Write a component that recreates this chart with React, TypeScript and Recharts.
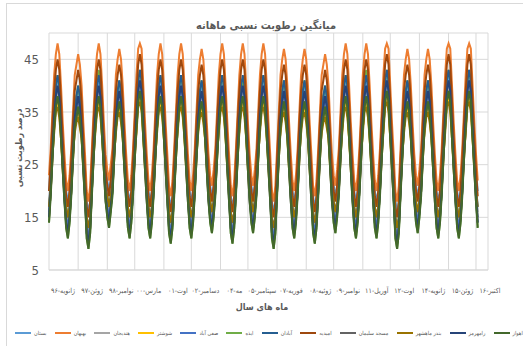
import React from 'react';
import { LineChart, Line, XAxis, YAxis, CartesianGrid, Legend } from 'recharts';

// monthly mean relative humidity, one row per season (first row starts one month in)
const BOSTAN = [
  20, 25, 31, 36, 40, 41, 39, 35, 29, 24, 20,
  18, 20, 25, 31, 36, 38, 39, 37, 35, 29, 24, 18,
  16, 18, 25, 31, 36, 40, 41, 39, 35, 29, 24, 22,
  20, 22, 25, 31, 36, 39, 40, 38, 35, 29, 24, 20,
  18, 20, 25, 31, 36, 41, 42, 40, 35, 29, 24, 20,
  18, 20, 25, 31, 36, 40, 41, 39, 35, 29, 24, 19,
  17, 19, 25, 31, 36, 40, 41, 39, 35, 29, 24, 20,
  18, 20, 25, 31, 36, 39, 40, 38, 35, 29, 24, 21,
  19, 21, 25, 31, 36, 40, 41, 39, 35, 29, 24, 19,
  17, 19, 25, 31, 36, 40, 41, 39, 35, 29, 24, 21,
  19, 21, 25, 31, 36, 40, 41, 39, 35, 29, 24, 18,
  16, 18, 25, 31, 36, 39, 40, 38, 35, 29, 24, 20,
  18, 20, 25, 31, 36, 39, 40, 38, 35, 29, 24, 19,
  17, 19, 25, 31, 36, 38, 39, 37, 35, 29, 24, 21,
  19, 21, 25, 31, 36, 40, 41, 39, 35, 29, 24, 20,
  18, 20, 25, 31, 36, 40, 41, 39, 35, 29, 24, 20,
  18, 20, 25, 31, 36, 41, 42, 40, 35, 29, 24, 18,
  16, 18, 25, 31, 36, 39, 40, 38, 35, 29, 24, 21,
  19, 21, 25, 31, 36, 39, 40, 38, 35, 29, 24, 20,
  18, 20, 25, 31, 36, 41, 42, 40, 35, 29, 24, 20,
  18, 20, 25, 31, 36, 41, 42, 40, 35, 29, 24, 20,
];
const BEHBAHAN = [
  23, 28, 35, 42, 46, 48, 46, 40, 33, 27, 22,
  20, 23, 28, 35, 42, 44, 46, 44, 40, 33, 27, 20,
  18, 21, 28, 35, 42, 46, 48, 46, 40, 33, 27, 24,
  22, 25, 28, 35, 42, 45, 47, 45, 40, 33, 27, 22,
  20, 23, 28, 35, 42, 47, 48, 47, 40, 33, 27, 22,
  20, 23, 28, 35, 42, 46, 48, 46, 40, 33, 27, 21,
  19, 22, 28, 35, 42, 46, 48, 46, 40, 33, 27, 22,
  20, 23, 28, 35, 42, 45, 47, 45, 40, 33, 27, 23,
  21, 24, 28, 35, 42, 46, 48, 46, 40, 33, 27, 21,
  19, 22, 28, 35, 42, 46, 48, 46, 40, 33, 27, 23,
  21, 24, 28, 35, 42, 46, 48, 46, 40, 33, 27, 20,
  18, 21, 28, 35, 42, 45, 47, 45, 40, 33, 27, 22,
  20, 23, 28, 35, 42, 45, 47, 45, 40, 33, 27, 21,
  19, 22, 28, 35, 42, 44, 46, 44, 40, 33, 27, 23,
  21, 24, 28, 35, 42, 46, 48, 46, 40, 33, 27, 22,
  20, 23, 28, 35, 42, 46, 48, 46, 40, 33, 27, 22,
  20, 23, 28, 35, 42, 47, 48, 47, 40, 33, 27, 20,
  18, 21, 28, 35, 42, 45, 47, 45, 40, 33, 27, 23,
  21, 24, 28, 35, 42, 45, 47, 45, 40, 33, 27, 22,
  20, 23, 28, 35, 42, 47, 48, 47, 40, 33, 27, 22,
  20, 23, 28, 35, 42, 47, 48, 47, 40, 33, 27, 22,
];
const HENDIJAN = [
  16, 21, 28, 33, 37, 39, 37, 32, 26, 20, 16,
  14, 16, 21, 28, 33, 35, 37, 35, 32, 26, 20, 14,
  12, 14, 21, 28, 33, 37, 39, 37, 32, 26, 20, 18,
  16, 18, 21, 28, 33, 36, 38, 36, 32, 26, 20, 16,
  14, 16, 21, 28, 33, 38, 40, 38, 32, 26, 20, 16,
  14, 16, 21, 28, 33, 37, 39, 37, 32, 26, 20, 15,
  13, 15, 21, 28, 33, 37, 39, 37, 32, 26, 20, 16,
  14, 16, 21, 28, 33, 36, 38, 36, 32, 26, 20, 17,
  15, 17, 21, 28, 33, 37, 39, 37, 32, 26, 20, 15,
  13, 15, 21, 28, 33, 37, 39, 37, 32, 26, 20, 17,
  15, 17, 21, 28, 33, 37, 39, 37, 32, 26, 20, 14,
  12, 14, 21, 28, 33, 36, 38, 36, 32, 26, 20, 16,
  14, 16, 21, 28, 33, 36, 38, 36, 32, 26, 20, 15,
  13, 15, 21, 28, 33, 35, 37, 35, 32, 26, 20, 17,
  15, 17, 21, 28, 33, 37, 39, 37, 32, 26, 20, 16,
  14, 16, 21, 28, 33, 37, 39, 37, 32, 26, 20, 16,
  14, 16, 21, 28, 33, 38, 40, 38, 32, 26, 20, 14,
  12, 14, 21, 28, 33, 36, 38, 36, 32, 26, 20, 17,
  15, 17, 21, 28, 33, 36, 38, 36, 32, 26, 20, 16,
  14, 16, 21, 28, 33, 38, 40, 38, 32, 26, 20, 16,
  14, 16, 21, 28, 33, 38, 40, 38, 32, 26, 20, 16,
];
const SHUSHTAR = [
  15, 20, 26, 32, 36, 37, 35, 30, 24, 19, 15,
  13, 15, 20, 26, 32, 34, 35, 33, 30, 24, 19, 13,
  11, 13, 20, 26, 32, 36, 37, 35, 30, 24, 19, 17,
  15, 17, 20, 26, 32, 35, 36, 34, 30, 24, 19, 15,
  13, 15, 20, 26, 32, 37, 38, 36, 30, 24, 19, 15,
  13, 15, 20, 26, 32, 36, 37, 35, 30, 24, 19, 14,
  12, 14, 20, 26, 32, 36, 37, 35, 30, 24, 19, 15,
  13, 15, 20, 26, 32, 35, 36, 34, 30, 24, 19, 16,
  14, 16, 20, 26, 32, 36, 37, 35, 30, 24, 19, 14,
  12, 14, 20, 26, 32, 36, 37, 35, 30, 24, 19, 16,
  14, 16, 20, 26, 32, 36, 37, 35, 30, 24, 19, 13,
  11, 13, 20, 26, 32, 35, 36, 34, 30, 24, 19, 15,
  13, 15, 20, 26, 32, 35, 36, 34, 30, 24, 19, 14,
  12, 14, 20, 26, 32, 34, 35, 33, 30, 24, 19, 16,
  14, 16, 20, 26, 32, 36, 37, 35, 30, 24, 19, 15,
  13, 15, 20, 26, 32, 36, 37, 35, 30, 24, 19, 15,
  13, 15, 20, 26, 32, 37, 38, 36, 30, 24, 19, 13,
  11, 13, 20, 26, 32, 35, 36, 34, 30, 24, 19, 16,
  14, 16, 20, 26, 32, 35, 36, 34, 30, 24, 19, 15,
  13, 15, 20, 26, 32, 37, 38, 36, 30, 24, 19, 15,
  13, 15, 20, 26, 32, 37, 38, 36, 30, 24, 19, 15,
];
const SAFIABAD = [
  16, 21, 28, 34, 38, 40, 38, 32, 26, 20, 15,
  13, 16, 21, 28, 34, 36, 38, 36, 32, 26, 20, 13,
  11, 14, 21, 28, 34, 38, 40, 38, 32, 26, 20, 17,
  15, 18, 21, 28, 34, 37, 39, 37, 32, 26, 20, 15,
  13, 16, 21, 28, 34, 39, 41, 39, 32, 26, 20, 15,
  13, 16, 21, 28, 34, 38, 40, 38, 32, 26, 20, 14,
  12, 15, 21, 28, 34, 38, 40, 38, 32, 26, 20, 15,
  13, 16, 21, 28, 34, 37, 39, 37, 32, 26, 20, 16,
  14, 17, 21, 28, 34, 38, 40, 38, 32, 26, 20, 14,
  12, 15, 21, 28, 34, 38, 40, 38, 32, 26, 20, 16,
  14, 17, 21, 28, 34, 38, 40, 38, 32, 26, 20, 13,
  11, 14, 21, 28, 34, 37, 39, 37, 32, 26, 20, 15,
  13, 16, 21, 28, 34, 37, 39, 37, 32, 26, 20, 14,
  12, 15, 21, 28, 34, 36, 38, 36, 32, 26, 20, 16,
  14, 17, 21, 28, 34, 38, 40, 38, 32, 26, 20, 15,
  13, 16, 21, 28, 34, 38, 40, 38, 32, 26, 20, 15,
  13, 16, 21, 28, 34, 39, 41, 39, 32, 26, 20, 13,
  11, 14, 21, 28, 34, 37, 39, 37, 32, 26, 20, 16,
  14, 17, 21, 28, 34, 37, 39, 37, 32, 26, 20, 15,
  13, 16, 21, 28, 34, 39, 41, 39, 32, 26, 20, 15,
  13, 16, 21, 28, 34, 39, 41, 39, 32, 26, 20, 15,
];
const IZEH = [
  14, 20, 28, 35, 40, 42, 40, 33, 26, 19, 13,
  11, 14, 20, 28, 35, 38, 40, 38, 33, 26, 19, 11,
  9, 12, 20, 28, 35, 41, 43, 41, 33, 26, 19, 15,
  13, 16, 20, 28, 35, 39, 41, 39, 33, 26, 19, 13,
  11, 14, 20, 28, 35, 41, 43, 41, 33, 26, 19, 13,
  11, 14, 20, 28, 35, 40, 42, 40, 33, 26, 19, 12,
  10, 13, 20, 28, 35, 40, 42, 40, 33, 26, 19, 13,
  11, 14, 20, 28, 35, 39, 41, 39, 33, 26, 19, 14,
  12, 15, 20, 28, 35, 40, 42, 40, 33, 26, 19, 12,
  10, 13, 20, 28, 35, 39, 41, 39, 33, 26, 19, 14,
  12, 15, 20, 28, 35, 40, 42, 40, 33, 26, 19, 11,
  9, 12, 20, 28, 35, 39, 41, 39, 33, 26, 19, 13,
  11, 14, 20, 28, 35, 39, 41, 39, 33, 26, 19, 12,
  10, 13, 20, 28, 35, 38, 40, 38, 33, 26, 19, 14,
  12, 15, 20, 28, 35, 40, 42, 40, 33, 26, 19, 13,
  11, 14, 20, 28, 35, 41, 43, 41, 33, 26, 19, 13,
  11, 14, 20, 28, 35, 41, 43, 41, 33, 26, 19, 11,
  9, 12, 20, 28, 35, 39, 41, 39, 33, 26, 19, 14,
  12, 15, 20, 28, 35, 39, 41, 39, 33, 26, 19, 13,
  11, 14, 20, 28, 35, 41, 43, 41, 33, 26, 19, 13,
  11, 14, 20, 28, 35, 41, 43, 41, 33, 26, 19, 13,
];
const ABADAN = [
  17, 22, 29, 35, 40, 42, 40, 34, 27, 21, 17,
  15, 17, 22, 29, 35, 38, 40, 38, 34, 27, 21, 15,
  13, 15, 22, 29, 35, 40, 42, 40, 34, 27, 21, 19,
  17, 19, 22, 29, 35, 39, 41, 39, 34, 27, 21, 17,
  15, 17, 22, 29, 35, 41, 43, 41, 34, 27, 21, 17,
  15, 17, 22, 29, 35, 40, 42, 40, 34, 27, 21, 16,
  14, 16, 22, 29, 35, 40, 42, 40, 34, 27, 21, 17,
  15, 17, 22, 29, 35, 39, 41, 39, 34, 27, 21, 18,
  16, 18, 22, 29, 35, 40, 42, 40, 34, 27, 21, 16,
  14, 16, 22, 29, 35, 40, 42, 40, 34, 27, 21, 18,
  16, 18, 22, 29, 35, 40, 42, 40, 34, 27, 21, 15,
  13, 15, 22, 29, 35, 39, 41, 39, 34, 27, 21, 17,
  15, 17, 22, 29, 35, 39, 41, 39, 34, 27, 21, 16,
  14, 16, 22, 29, 35, 38, 40, 38, 34, 27, 21, 18,
  16, 18, 22, 29, 35, 40, 42, 40, 34, 27, 21, 17,
  15, 17, 22, 29, 35, 40, 42, 40, 34, 27, 21, 17,
  15, 17, 22, 29, 35, 41, 43, 41, 34, 27, 21, 15,
  13, 15, 22, 29, 35, 39, 41, 39, 34, 27, 21, 18,
  16, 18, 22, 29, 35, 39, 41, 39, 34, 27, 21, 17,
  15, 17, 22, 29, 35, 41, 43, 41, 34, 27, 21, 17,
  15, 17, 22, 29, 35, 41, 43, 41, 34, 27, 21, 17,
];
const OMIDIYEH = [
  20, 26, 33, 39, 43, 45, 43, 37, 30, 24, 19,
  17, 20, 26, 33, 39, 41, 43, 41, 37, 30, 24, 17,
  15, 18, 26, 33, 39, 43, 45, 43, 37, 30, 24, 21,
  19, 22, 26, 33, 39, 42, 44, 42, 37, 30, 24, 19,
  17, 20, 26, 33, 39, 44, 46, 44, 37, 30, 24, 19,
  17, 20, 26, 33, 39, 43, 45, 43, 37, 30, 24, 18,
  16, 19, 26, 33, 39, 43, 45, 43, 37, 30, 24, 19,
  17, 20, 26, 33, 39, 42, 44, 42, 37, 30, 24, 20,
  18, 21, 26, 33, 39, 43, 45, 43, 37, 30, 24, 18,
  16, 19, 26, 33, 39, 43, 45, 43, 37, 30, 24, 20,
  18, 21, 26, 33, 39, 43, 45, 43, 37, 30, 24, 17,
  15, 18, 26, 33, 39, 42, 44, 42, 37, 30, 24, 19,
  17, 20, 26, 33, 39, 42, 44, 42, 37, 30, 24, 18,
  16, 19, 26, 33, 39, 41, 43, 41, 37, 30, 24, 20,
  18, 21, 26, 33, 39, 43, 45, 43, 37, 30, 24, 19,
  17, 20, 26, 33, 39, 43, 45, 43, 37, 30, 24, 19,
  17, 20, 26, 33, 39, 44, 46, 44, 37, 30, 24, 17,
  15, 18, 26, 33, 39, 42, 44, 42, 37, 30, 24, 20,
  18, 21, 26, 33, 39, 42, 44, 42, 37, 30, 24, 19,
  17, 20, 26, 33, 39, 44, 46, 44, 37, 30, 24, 19,
  17, 20, 26, 33, 39, 44, 46, 44, 37, 30, 24, 19,
];
const MASJED_SOLEYMAN = [
  15, 20, 26, 32, 36, 38, 36, 31, 24, 18, 14,
  12, 15, 20, 26, 32, 34, 36, 34, 31, 24, 18, 12,
  10, 13, 20, 26, 32, 36, 38, 36, 31, 24, 18, 16,
  14, 17, 20, 26, 32, 35, 37, 35, 31, 24, 18, 14,
  12, 15, 20, 26, 32, 37, 39, 37, 31, 24, 18, 14,
  12, 15, 20, 26, 32, 36, 38, 36, 31, 24, 18, 13,
  11, 14, 20, 26, 32, 36, 38, 36, 31, 24, 18, 14,
  12, 15, 20, 26, 32, 35, 37, 35, 31, 24, 18, 15,
  13, 16, 20, 26, 32, 36, 38, 36, 31, 24, 18, 13,
  11, 14, 20, 26, 32, 36, 38, 36, 31, 24, 18, 15,
  13, 16, 20, 26, 32, 36, 38, 36, 31, 24, 18, 12,
  10, 13, 20, 26, 32, 35, 37, 35, 31, 24, 18, 14,
  12, 15, 20, 26, 32, 35, 37, 35, 31, 24, 18, 13,
  11, 14, 20, 26, 32, 34, 36, 34, 31, 24, 18, 15,
  13, 16, 20, 26, 32, 36, 38, 36, 31, 24, 18, 14,
  12, 15, 20, 26, 32, 36, 38, 36, 31, 24, 18, 14,
  12, 15, 20, 26, 32, 37, 39, 37, 31, 24, 18, 12,
  10, 13, 20, 26, 32, 35, 37, 35, 31, 24, 18, 15,
  13, 16, 20, 26, 32, 35, 37, 35, 31, 24, 18, 14,
  12, 15, 20, 26, 32, 37, 39, 37, 31, 24, 18, 14,
  12, 15, 20, 26, 32, 37, 39, 37, 31, 24, 18, 14,
];
const BANDAR_MAHSHAHR = [
  17, 21, 27, 31, 35, 36, 34, 30, 25, 20, 17,
  15, 17, 21, 27, 31, 33, 34, 32, 30, 25, 20, 15,
  13, 15, 21, 27, 31, 35, 36, 34, 30, 25, 20, 19,
  17, 19, 21, 27, 31, 34, 35, 33, 30, 25, 20, 17,
  15, 17, 21, 27, 31, 36, 37, 35, 30, 25, 20, 17,
  15, 17, 21, 27, 31, 35, 36, 34, 30, 25, 20, 16,
  14, 16, 21, 27, 31, 35, 36, 34, 30, 25, 20, 17,
  15, 17, 21, 27, 31, 34, 35, 33, 30, 25, 20, 18,
  16, 18, 21, 27, 31, 35, 36, 34, 30, 25, 20, 16,
  14, 16, 21, 27, 31, 35, 36, 34, 30, 25, 20, 18,
  16, 18, 21, 27, 31, 35, 36, 34, 30, 25, 20, 15,
  13, 15, 21, 27, 31, 34, 35, 33, 30, 25, 20, 17,
  15, 17, 21, 27, 31, 34, 35, 33, 30, 25, 20, 16,
  14, 16, 21, 27, 31, 33, 34, 32, 30, 25, 20, 18,
  16, 18, 21, 27, 31, 35, 36, 34, 30, 25, 20, 17,
  15, 17, 21, 27, 31, 35, 36, 34, 30, 25, 20, 17,
  15, 17, 21, 27, 31, 36, 37, 35, 30, 25, 20, 15,
  13, 15, 21, 27, 31, 34, 35, 33, 30, 25, 20, 18,
  16, 18, 21, 27, 31, 34, 35, 33, 30, 25, 20, 17,
  15, 17, 21, 27, 31, 36, 37, 35, 30, 25, 20, 17,
  15, 17, 21, 27, 31, 36, 37, 35, 30, 25, 20, 17,
];
const RAMHORMOZ = [
  15, 20, 27, 34, 38, 40, 38, 32, 25, 19, 14,
  12, 15, 20, 27, 34, 36, 38, 36, 32, 25, 19, 12,
  10, 13, 20, 27, 34, 38, 40, 38, 32, 25, 19, 16,
  14, 17, 20, 27, 34, 37, 39, 37, 32, 25, 19, 14,
  12, 15, 20, 27, 34, 39, 41, 39, 32, 25, 19, 14,
  12, 15, 20, 27, 34, 38, 40, 38, 32, 25, 19, 13,
  11, 14, 20, 27, 34, 38, 40, 38, 32, 25, 19, 14,
  12, 15, 20, 27, 34, 37, 39, 37, 32, 25, 19, 15,
  13, 16, 20, 27, 34, 38, 40, 38, 32, 25, 19, 13,
  11, 14, 20, 27, 34, 38, 40, 38, 32, 25, 19, 15,
  13, 16, 20, 27, 34, 38, 40, 38, 32, 25, 19, 12,
  10, 13, 20, 27, 34, 37, 39, 37, 32, 25, 19, 14,
  12, 15, 20, 27, 34, 37, 39, 37, 32, 25, 19, 13,
  11, 14, 20, 27, 34, 36, 38, 36, 32, 25, 19, 15,
  13, 16, 20, 27, 34, 38, 40, 38, 32, 25, 19, 14,
  12, 15, 20, 27, 34, 38, 40, 38, 32, 25, 19, 14,
  12, 15, 20, 27, 34, 39, 41, 39, 32, 25, 19, 12,
  10, 13, 20, 27, 34, 37, 39, 37, 32, 25, 19, 15,
  13, 16, 20, 27, 34, 37, 39, 37, 32, 25, 19, 14,
  12, 15, 20, 27, 34, 39, 41, 39, 32, 25, 19, 14,
  12, 15, 20, 27, 34, 39, 41, 39, 32, 25, 19, 14,
];
const AHVAZ = [
  14, 19, 26, 32, 36, 38, 36, 30, 24, 18, 13,
  11, 14, 19, 26, 32, 34, 36, 34, 30, 24, 18, 11,
  9, 12, 19, 26, 32, 36, 38, 36, 30, 24, 18, 15,
  13, 16, 19, 26, 32, 35, 37, 35, 30, 24, 18, 13,
  11, 14, 19, 26, 32, 37, 39, 37, 30, 24, 18, 13,
  11, 14, 19, 26, 32, 36, 38, 36, 30, 24, 18, 12,
  10, 13, 19, 26, 32, 36, 38, 36, 30, 24, 18, 13,
  11, 14, 19, 26, 32, 35, 37, 35, 30, 24, 18, 14,
  12, 15, 19, 26, 32, 36, 38, 36, 30, 24, 18, 12,
  10, 13, 19, 26, 32, 36, 38, 36, 30, 24, 18, 14,
  12, 15, 19, 26, 32, 36, 38, 36, 30, 24, 18, 11,
  9, 12, 19, 26, 32, 35, 37, 35, 30, 24, 18, 13,
  11, 14, 19, 26, 32, 35, 37, 35, 30, 24, 18, 12,
  10, 13, 19, 26, 32, 34, 36, 34, 30, 24, 18, 14,
  12, 15, 19, 26, 32, 36, 38, 36, 30, 24, 18, 13,
  11, 14, 19, 26, 32, 36, 38, 36, 30, 24, 18, 13,
  11, 14, 19, 26, 32, 37, 39, 37, 30, 24, 18, 11,
  9, 12, 19, 26, 32, 35, 37, 35, 30, 24, 18, 14,
  12, 15, 19, 26, 32, 35, 37, 35, 30, 24, 18, 13,
  11, 14, 19, 26, 32, 37, 39, 37, 30, 24, 18, 13,
  11, 14, 19, 26, 32, 37, 39, 37, 30, 24, 18, 13,
];

const STATION_NAMES = [
  'بستان', 'بهبهان', 'هندیجان', 'شوشتر', 'صفی آباد', 'ایذه',
  'آبادان', 'امیدیه', 'مسجد سلیمان', 'بندر ماهشهر', 'رامهرمز', 'اهواز',
];
const STATION_VALUES = [
  BOSTAN, BEHBAHAN, HENDIJAN, SHUSHTAR, SAFIABAD, IZEH,
  ABADAN, OMIDIYEH, MASJED_SOLEYMAN, BANDAR_MAHSHAHR, RAMHORMOZ, AHVAZ,
];
const COLORS = [
  '#5B9BD5', '#ED7D31', '#A5A5A5', '#FFC000', '#4472C4', '#70AD47',
  '#255E91', '#9E480E', '#636363', '#997300', '#264478', '#43682B',
];

// month offsets (from the first month) where the date labels sit
const LABEL_MONTHS = [0, 17, 34, 50, 67, 83, 100, 116, 133, 150, 166, 183, 199, 216, 233, 249];
const MONTH_LABELS = [
  'ژانویه-۹۶', 'ژوئن-۹۷', 'نوامبر-۹۸', 'مارس-۰۰', 'اوت-۰۱', 'دسامبر-۰۲', 'مه-۰۴', 'سپتامبر-۰۵',
  'فوریه-۰۷', 'ژوئیه-۰۸', 'نوامبر-۰۹', 'آوریل-۱۱', 'اوت-۱۲', 'ژانویه-۱۴', 'ژوئن-۱۵', 'اکتبر-۱۶',
];
const Y_TICKS = [5, 15, 25, 35, 45];

const TEXT = '#595959';
const GRID = '#d9d9d9';
const FA_FONT = '"DejaVu Sans Condensed", "DejaVu Sans", sans-serif';

const data = BOSTAN.map((_, i) => {
  const row: Record<string, number> = { month: i };
  STATION_VALUES.forEach((values, s) => {
    row[`s${s}`] = values[i];
  });
  return row;
});

const MonthTick = ({ x, y, payload }: any) => {
  const idx = LABEL_MONTHS.indexOf(payload.value);
  if (idx < 0) return null;
  return (
    <text x={x + 14} y={y + 21} textAnchor="middle" fontSize={7} fill={TEXT} fontFamily={FA_FONT}>
      {MONTH_LABELS[idx]}
    </text>
  );
};

// single-row legend, short line followed by the station name
const StationLegend = ({ payload }: any) => {
  const items = [...(payload || [])].sort(
    (a: any, b: any) => STATION_NAMES.indexOf(a.value) - STATION_NAMES.indexOf(b.value),
  );
  return (
    <div style={{ display: 'flex', justifyContent: 'space-between', alignItems: 'center', width: '100%' }}>
      {items.map((item: any) => (
        <div key={item.value} style={{ display: 'flex', alignItems: 'center', whiteSpace: 'nowrap' }}>
          <svg width={16} height={4} style={{ marginRight: 3 }}>
            <line x1={0} y1={2} x2={16} y2={2} stroke={item.color} strokeWidth={2} />
          </svg>
          <span style={{ color: TEXT, fontSize: 5.5, fontFamily: FA_FONT }}>{item.value}</span>
        </div>
      ))}
    </div>
  );
};

export default function App() {
  return (
    <div style={{ position: 'absolute', left: 0, top: 0, width: 523, height: 346, background: '#fff', overflow: 'hidden' }}>
      <div style={{ position: 'absolute', left: 6, top: 3, width: 530, height: 360, border: `1px solid ${GRID}` }} />
      <LineChart width={523} height={346} data={data} margin={{ top: 33, right: 35, bottom: 36, left: 0 }}>
        <CartesianGrid stroke={GRID} />
        <XAxis
          dataKey="month"
          type="number"
          domain={[0, 256]}
          ticks={[...LABEL_MONTHS, 256]}
          interval={0}
          height={40}
          axisLine={{ stroke: GRID }}
          tickLine={false}
          tickSize={0}
          tick={<MonthTick />}
        />
        <YAxis
          domain={[5, 50]}
          ticks={Y_TICKS}
          width={49}
          axisLine={false}
          tickLine={false}
          tickSize={0}
          tickMargin={10}
          tick={{ fontSize: 13, fill: TEXT, fontFamily: '"Liberation Sans Narrow", "DejaVu Sans Condensed", sans-serif' }}
        />
        <Legend
          verticalAlign="middle"
          align="center"
          content={<StationLegend />}
          wrapperStyle={{ top: 330, left: 15, width: 508, height: 8 }}
        />
        {STATION_NAMES.map((name, s) => (
          <Line
            key={name}
            type="linear"
            dataKey={`s${s}`}
            name={name}
            stroke={COLORS[s]}
            strokeWidth={2}
            dot={false}
            activeDot={false}
            isAnimationActive={false}
          />
        ))}
      </LineChart>
      <div
        style={{
          position: 'absolute', left: 266, top: 25, transform: 'translate(-50%, -50%)', whiteSpace: 'nowrap',
          fontFamily: FA_FONT, fontWeight: 'bold', fontSize: 11, color: TEXT, direction: 'rtl',
        }}
      >
        میانگین رطوبت نسبی ماهانه
      </div>
      <div
        style={{
          position: 'absolute', left: 19, top: 148, transform: 'translate(-50%, -50%) rotate(-90deg)',
          whiteSpace: 'nowrap', fontFamily: FA_FONT, fontWeight: 'bold', fontSize: 9, color: TEXT, direction: 'rtl',
        }}
      >
        درصد رطوبت نسبی
      </div>
      <div
        style={{
          position: 'absolute', left: 262, top: 307, transform: 'translate(-50%, -50%)',
          whiteSpace: 'nowrap', fontFamily: FA_FONT, fontWeight: 'bold', fontSize: 9, color: TEXT, direction: 'rtl',
        }}
      >
        ماه های سال
      </div>
    </div>
  );
}
